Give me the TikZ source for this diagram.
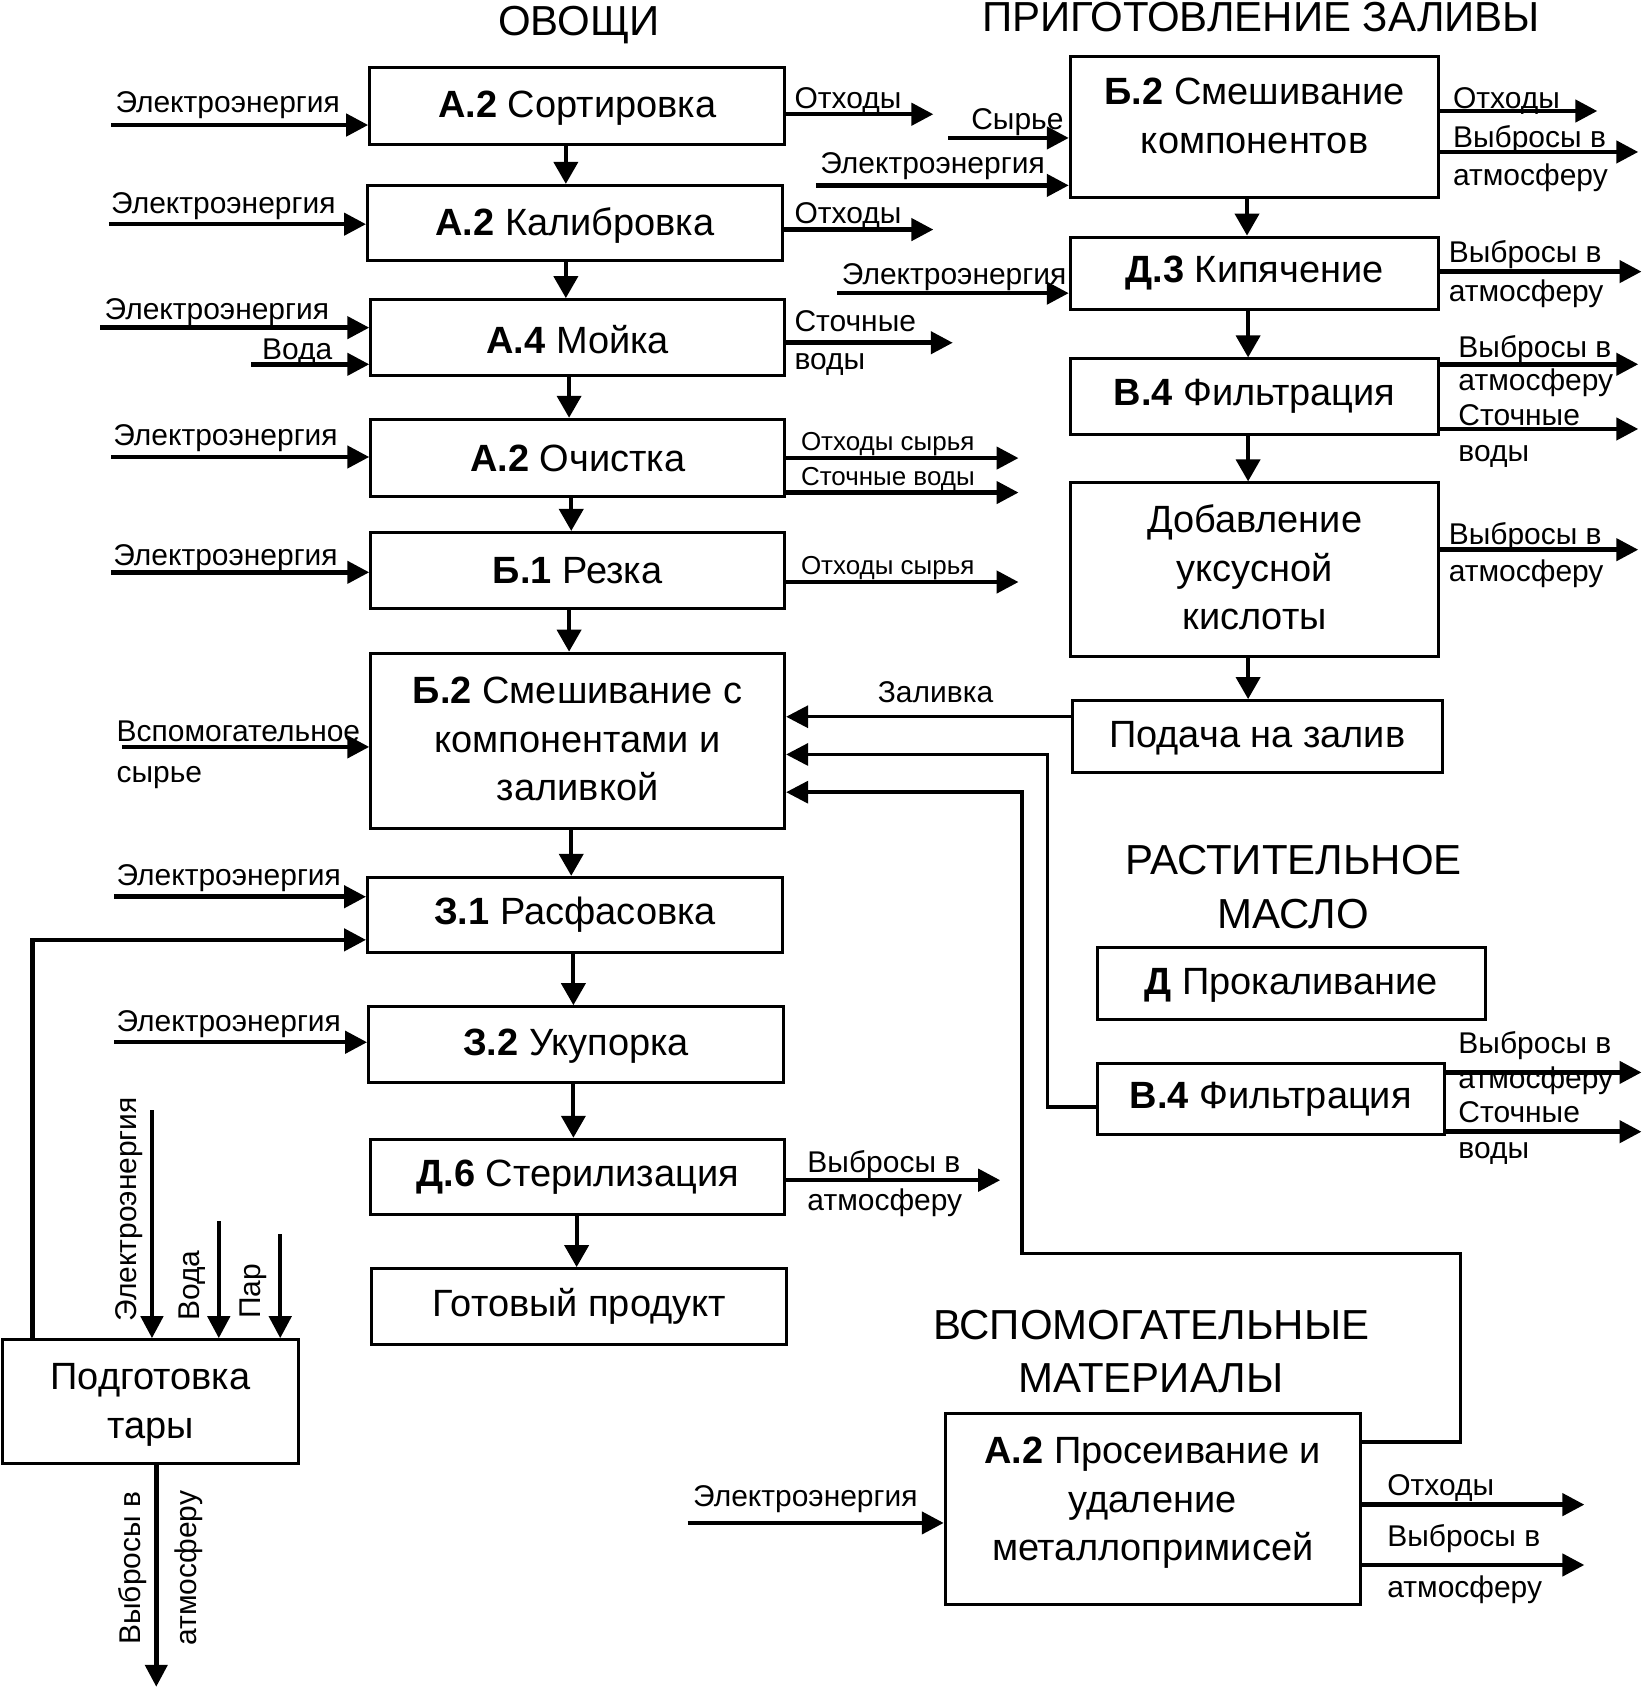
\documentclass[tikz,border=0pt]{standalone}
\usepackage{fontspec}
\setmainfont{Liberation Sans}
\usetikzlibrary{arrows.meta,fit,calc}
\begin{document}
\begin{tikzpicture}[x=1.0786pt,y=-1.0786pt,
  box/.style={draw,line width=3pt,inner sep=0pt},
  bt/.style={inner sep=0pt,align=center,font=\fontsize{38}{48.5}\selectfont},
  title/.style={inner sep=0pt,font=\fontsize{42}{50}\selectfont},
  rlbl/.style={inner sep=0pt,anchor=center,rotate=90,font=\fontsize{30}{36}\selectfont,text height=21pt,text depth=6pt},
  lbl/.style={inner sep=0pt,anchor=west,yshift=-3pt,font=\fontsize{30}{36}\selectfont,text height=21pt,text depth=6pt},
  slbl/.style={inner sep=0pt,anchor=west,yshift=-2pt,font=\fontsize{26}{32}\selectfont,text height=19pt,text depth=5pt},
  io/.style={line width=4.5pt,-{Triangle[length=22pt,width=22pt]}},
  flow/.style={line width=4pt,-{Triangle[length=22pt,width=24pt]}},
  feed/.style={line width=3.5pt,-{Triangle[length=22pt,width=22pt]}},
]
\fill[white] (0,0) rectangle (1527,1568);
\useasboundingbox (0,0) rectangle (1527,1568);

% titles
\node[title] (tv) at (537,23) {ОВОЩИ};
\node[title] (tz) at (1170,16) {ПРИГОТОВЛЕНИЕ ЗАЛИВЫ};
\node[title] (tm1) at (1200,798) {РАСТИТЕЛЬНОЕ};
\node[title] (tm2) at (1200,848) {МАСЛО};
\node[title] (tb1) at (1068,1229) {ВСПОМОГАТЕЛЬНЫЕ};
\node[title] (tb2) at (1068,1279) {МАТЕРИАЛЫ};

% left column
\node[box,fit={(343,63) (728,134)},label={[bt,yshift=-2pt]center:\textbf{А.2} Сортировка}] (s1) {};
\node[box,fit={(341,172) (726,242)},label={[bt,yshift=-2pt]center:\textbf{А.2} Калибровка}] (s2) {};
\node[box,fit={(344,278) (728,348)},label={[bt,yshift=-2pt]center:\textbf{А.4} Мойка}] (s3) {};
\node[box,fit={(344,389) (728,461)},label={[bt]center:\textbf{А.2} Очистка}] (s4) {};
\node[box,fit={(344,494) (728,565)},label={[bt]center:\textbf{Б.1} Резка}] (s5) {};
\node[box,fit={(344,606) (728,769)},label={[bt,yshift=2pt]center:\textbf{Б.2} Смешивание с\\компонентами и\\заливкой}] (s6) {};
\node[box,fit={(341,814) (726,884)},label={[bt]center:\textbf{З.1} Расфасовка}] (s7) {};
\node[box,fit={(342,934) (727,1004)},label={[bt,yshift=-2pt]center:\textbf{З.2} Укупорка}] (s8) {};
\node[box,fit={(344,1057) (728,1127)},label={[bt]center:\textbf{Д.6} Стерилизация}] (s9) {};
\node[box,fit={(345,1177) (730,1247)},label={[bt]center:Готовый продукт}] (s10) {};

% right column
\node[box,fit={(993,52) (1335,183)},label={[bt,yshift=10.5pt]center:\textbf{Б.2} Смешивание\\компонентов}] (r1) {};
\node[box,fit={(993,220) (1335,287)},label={[bt]center:\textbf{Д.3} Кипячение}] (r2) {};
\node[box,fit={(993,333) (1335,403)},label={[bt]center:\textbf{В.4} Фильтрация}] (r3) {};
\node[box,fit={(993,448) (1335,609)},label={[bt,yshift=2pt]center:Добавление\\уксусной\\кислоты}] (r4) {};
\node[box,fit={(995,650) (1338,717)},label={[bt,yshift=-2pt]center:Подача на залив}] (r5) {};

\node[box,fit={(1018,879) (1378,946)},label={[bt,yshift=-2pt]center:\textbf{Д} Прокаливание}] (o1) {};
\node[box,fit={(1018,987) (1340,1053)},label={[bt]center:\textbf{В.4} Фильтрация}] (o2) {};

\node[box,fit={(877,1311) (1262,1489)},label={[bt,yshift=6pt]center:\textbf{А.2} Просеивание и\\удаление\\металлопримисей}] (m1) {};

\node[box,fit={(2,1243) (277,1358)},label={[bt,yshift=-3pt]center:Подготовка\\тары}] (t1) {};

% flows between boxes
\draw[flow] (s1.south -| 525,0) -- (s2.north -| 525,0);
\draw[flow] (s2.south -| 525,0) -- (s3.north -| 525,0);
\draw[flow] (s3.south -| 528,0) -- (s4.north -| 528,0);
\draw[flow] (s4.south -| 530,0) -- (s5.north -| 530,0);
\draw[flow] (s5.south -| 528,0) -- (s6.north -| 528,0);
\draw[flow] (s6.south -| 530,0) -- (s7.north -| 530,0);
\draw[flow] (s7.south -| 532,0) -- (s8.north -| 532,0);
\draw[flow] (s8.south -| 532,0) -- (s9.north -| 532,0);
\draw[flow] (s9.south -| 535,0) -- (s10.north -| 535,0);

\draw[flow] (r1.south -| 1157,0) -- (r2.north -| 1157,0);
\draw[flow] (r2.south -| 1158,0) -- (r3.north -| 1158,0);
\draw[flow] (r3.south -| 1158,0) -- (r4.north -| 1158,0);
\draw[flow] (r4.south -| 1158,0) -- (r5.north -| 1158,0);

% left inputs
\coordinate (e1) at (103,116); \draw[io] (e1) -- (e1 -| s1.west);
\node[lbl] (le1) at (107,95) {Электроэнергия};
\coordinate (e2) at (101,208); \draw[io] (e2) -- (e2 -| s2.west);
\node[lbl] (le2) at (103,188) {Электроэнергия};
\coordinate (e3) at (93,304); \draw[io] (e3) -- (e3 -| s3.west);
\node[lbl] (le3) at (97,287) {Электроэнергия};
\coordinate (w3) at (233,338); \draw[io] (w3) -- (w3 -| s3.west);
\node[lbl] (lw3) at (243,324) {Вода};
\coordinate (e4) at (103,424); \draw[io] (e4) -- (e4 -| s4.west);
\node[lbl] (le4) at (105,404) {Электроэнергия};
\coordinate (e5) at (103,531); \draw[io] (e5) -- (e5 -| s5.west);
\node[lbl] (le5) at (105,515) {Электроэнергия};
\coordinate (e6) at (113,693); \draw[io] (e6) -- (e6 -| s6.west);
\node[lbl] (le6) at (108,678) {Вспомогательное};
\node[lbl] (le6b) at (108,716) {сырье};
\coordinate (e7) at (106,832); \draw[io] (e7) -- (e7 -| s7.west);
\node[lbl] (le7) at (108,812) {Электроэнергия};
\coordinate (e8) at (106,967); \draw[io] (e8) -- (e8 -| s8.west);
\node[lbl] (le8) at (108,947) {Электроэнергия};

% left outputs
\coordinate (x1) at (866,106); \draw[io] (x1 -| s1.east) -- (x1);
\node[lbl] (lx1) at (737,91) {Отходы};
\coordinate (x2) at (866,213); \draw[io] (x2 -| s2.east) -- (x2);
\node[lbl] (lx2) at (737,198) {Отходы};
\coordinate (x3) at (884,318); \draw[io] (x3 -| s3.east) -- (x3);
\node[lbl] (lx3) at (737,298) {Сточные};
\node[lbl] (lx3b) at (737,333) {воды};
\coordinate (x4) at (945,425); \draw[io] (x4 -| s4.east) -- (x4);
\node[slbl] (lx4) at (743,410) {Отходы сырья};
\coordinate (x4b) at (945,457); \draw[io] (x4b -| s4.east) -- (x4b);
\node[slbl] (lx4b) at (743,442) {Сточные воды};
\coordinate (x5) at (945,540); \draw[io] (x5 -| s5.east) -- (x5);
\node[slbl] (lx5) at (743,525) {Отходы сырья};
\coordinate (x9) at (928,1095); \draw[io] (x9 -| s9.east) -- (x9);
\node[lbl] (lx9) at (749,1078) {Выбросы в};
\node[lbl] (lx9b) at (749,1113) {атмосферу};

% right column inputs
\coordinate (f1) at (880,128); \draw[io] (f1) -- (f1 -| r1.west);
\node[lbl] (lf1) at (901,110) {Сырье};
\coordinate (f2) at (757,172); \draw[io] (f2) -- (f2 -| r1.west);
\node[lbl] (lf2) at (761,151) {Электроэнергия};
\coordinate (f3) at (777,272); \draw[io] (f3) -- (f3 -| r2.west);
\node[lbl] (lf3) at (781,254) {Электроэнергия};

% right column outputs
\coordinate (y1) at (1482,103); \draw[io] (y1 -| r1.east) -- (y1);
\node[lbl] (ly1) at (1348,91) {Отходы};
\coordinate (y2) at (1520,141); \draw[io] (y2 -| r1.east) -- (y2);
\node[lbl] (ly2) at (1348,127) {Выбросы в};
\node[lbl] (ly2b) at (1348,162) {атмосферу};
\coordinate (y3) at (1523,252); \draw[io] (y3 -| r2.east) -- (y3);
\node[lbl] (ly3) at (1344,234) {Выбросы в};
\node[lbl] (ly3b) at (1344,270) {атмосферу};
\coordinate (y4) at (1520,338); \draw[io] (y4 -| r3.east) -- (y4);
\node[lbl] (ly4) at (1353,322) {Выбросы в};
\node[lbl] (ly4b) at (1353,353) {атмосферу};
\coordinate (y5) at (1520,398); \draw[io] (y5 -| r3.east) -- (y5);
\node[lbl] (ly5) at (1353,385) {Сточные};
\node[lbl] (ly5b) at (1353,418) {воды};
\coordinate (y6) at (1520,510); \draw[io] (y6 -| r4.east) -- (y6);
\node[lbl] (ly6) at (1344,495) {Выбросы в};
\node[lbl] (ly6b) at (1344,530) {атмосферу};

% feeds into mixing
\draw[feed] (r5.west |- 0,665) -- (s6.east |- 0,665);
\node[lbl,anchor=center] (lz) at (868,642) {Заливка};
\draw[feed] (o2.west |- 0,1027) -- (972,1027) -- (972,700) -- (s6.east |- 0,700);
\draw[feed] (m1.east |- 0,1338) -- (1355,1338) -- (1355,1163) -- (948,1163) -- (948,735) -- (s6.east |- 0,735);

% oil outputs
\coordinate (z1) at (1523,995); \draw[io] (z1 -| o2.east) -- (z1);
\node[lbl] (lz1) at (1353,968) {Выбросы в};
\node[lbl] (lz1b) at (1353,1000) {атмосферу};
\coordinate (z2) at (1523,1050); \draw[io] (z2 -| o2.east) -- (z2);
\node[lbl] (lz2) at (1353,1032) {Сточные};
\node[lbl] (lz2b) at (1353,1065) {воды};

% auxiliary materials
\coordinate (g1) at (638,1413); \draw[io] (g1) -- (g1 -| m1.west);
\node[lbl] (lg1) at (643,1388) {Электроэнергия};
\coordinate (h1) at (1470,1396); \draw[io] (h1 -| m1.east) -- (h1);
\node[lbl] (lh1) at (1287,1378) {Отходы};
\coordinate (h2) at (1470,1452); \draw[io] (h2 -| m1.east) -- (h2);
\node[lbl] (lh2) at (1287,1425) {Выбросы в};
\node[lbl] (lh2b) at (1287,1472) {атмосферу};

% container preparation
\coordinate (k1) at (141,1030); \draw[io] (k1) -- (k1 |- t1.north);
\node[rlbl] (lk1) at (120,1122) {Электроэнергия};
\coordinate (k2) at (203,1133); \draw[io] (k2) -- (k2 |- t1.north);
\node[rlbl] (lk2) at (178,1193) {Вода};
\coordinate (k3) at (260,1145); \draw[io] (k3) -- (k3 |- t1.north);
\node[rlbl] (lk3) at (235,1198) {Пар};
\coordinate (k4) at (145,1565); \draw[io] (k4 |- t1.south) -- (k4);
\node[rlbl] (lk4) at (123,1455) {Выбросы в};
\node[rlbl] (lk4b) at (175,1455) {атмосферу};
\draw[io] (t1.north -| 30,0) -- (30,872) -- (s7.west |- 0,872);
\end{tikzpicture}
\end{document}
